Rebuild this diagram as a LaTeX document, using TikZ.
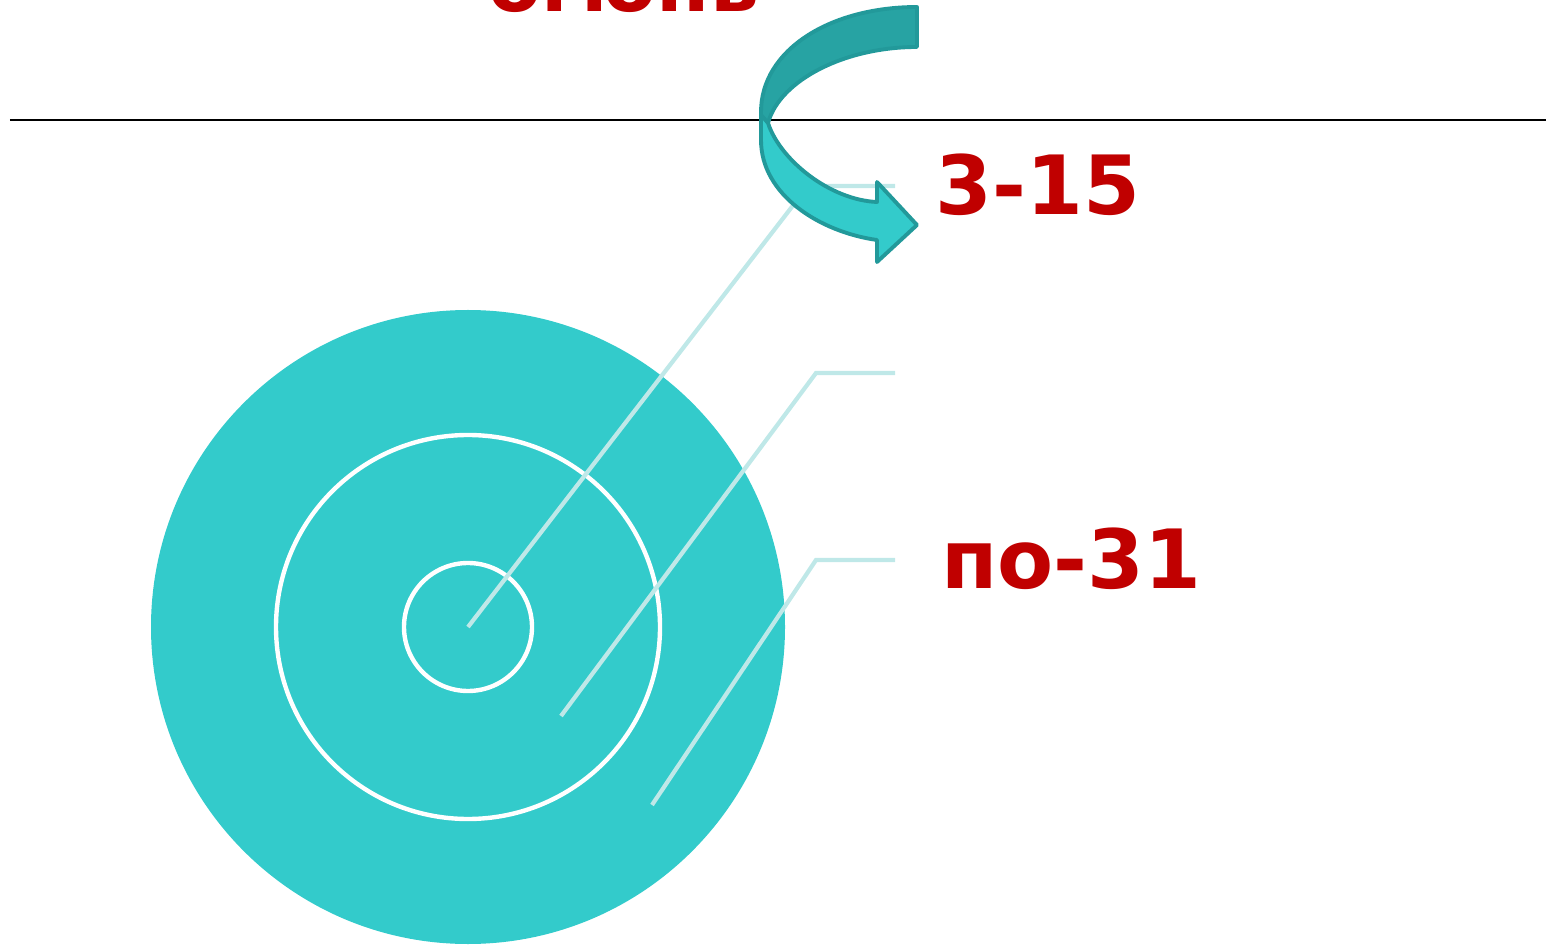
\documentclass[tikz,border=0pt]{standalone}
\usepackage{fontspec}
\newfontfamily\dejavu{DejaVu Sans}
\usepackage{tikz}
\definecolor{discteal}{HTML}{33CBCB}
\definecolor{leaderblue}{HTML}{BFE8E8}
\definecolor{arrowdark}{HTML}{27A3A3}
\definecolor{arrowedge}{HTML}{22999A}
\definecolor{datered}{HTML}{C00000}
\tikzset{
  datelabel/.style={text=datered,font=\dejavu\bfseries\fontsize{46.5}{52}\selectfont,inner sep=0pt,anchor=base west},
  leader/.style={leaderblue,line width=2.4pt}
}

\begin{document}
\begin{tikzpicture}
    \useasboundingbox (0,0) rectangle (31.12,18.9);
    \draw[line width=1.1pt] (0.2,16.5) -- (30.92,16.5);
    \coordinate (centre) at (9.36,6.36);
    \fill[discteal] (centre) circle (6.34);
    \draw[white,line width=2.5pt] (centre) circle (3.84) (centre) circle (1.28);
    \foreach \sx/\sy/\kx/\ky in {9.36/6.36/16.16/15.18,11.22/4.58/16.32/11.44,13.04/2.80/16.32/7.70}{
      \draw[leader] (\sx,\sy) -- (\kx,\ky) -- (17.9,\ky);
    }
    % back of the turning arrow
    \filldraw[fill=arrowdark,draw=arrowedge,line width=2.2pt,line join=round]
      (18.34,18.76) .. controls (16.6,18.76) and (15.22,17.9) .. (15.22,16.66)
      -- (15.22,16.4) -- (15.36,16.44)
      .. controls (15.6,17.3) and (16.9,17.96) .. (18.34,17.96) -- cycle;
    % front with the head
    \filldraw[fill=discteal,draw=arrowedge,line width=2.2pt,line join=round]
      (15.22,16.6) -- (15.22,16.10)
      .. controls (15.22,15.0) and (16.4,14.26) .. (17.54,14.10)
      -- (17.54,13.66) -- (18.34,14.40) -- (17.54,15.26) -- (17.54,14.86)
      .. controls (16.6,14.9) and (15.6,15.7) .. (15.36,16.44) -- cycle;
    \node[datelabel,font=\dejavu\bfseries\fontsize{44}{50}\selectfont] (month) at (9.76,18.66) {огюнь};
    \node[datelabel] (first) at (18.7,14.6) {3-15};
    \node[datelabel] (last) at (18.82,7.14) {по-31};
  \end{tikzpicture}
\end{document}
